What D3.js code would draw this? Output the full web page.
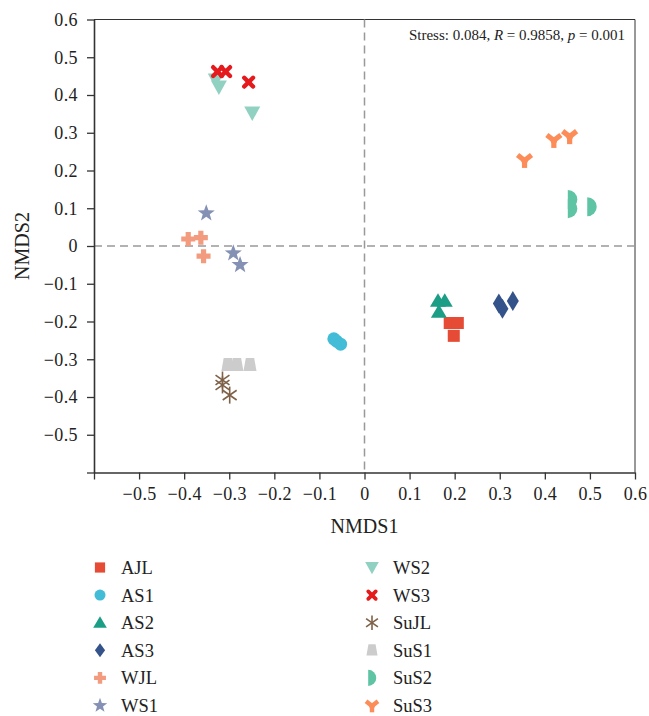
<html>
<head>
<meta charset="utf-8">
<style>
body { margin: 0; background: #fff; }
svg { font-family: "Liberation Serif", "DejaVu Serif", serif; }
.axis path, .axis line { stroke: #333; }
.axis text { font-size: 18px; letter-spacing: 0.4px; fill: #222; }
.title { font-size: 20px; fill: #222; }
.legend text { font-size: 18.5px; fill: #222; }
.zero { stroke: #999; stroke-width: 1.5; stroke-dasharray: 8,5; }
</style>
</head>
<body>
<svg width="649" height="716"></svg>
<script src="https://cdn.jsdelivr.net/npm/d3@7"></script>
<script>
// groups, colours, shapes
var groups = ["AJL","AS1","AS2","AS3","WJL","WS1","WS2","WS3","SuJL","SuS1","SuS2","SuS3"];
var colors = ["#E64B35","#42BCD7","#1B9E85","#34538A","#F39B7F","#8491B4","#91D1C2","#E41A1C","#7E6148","#CCCCCC","#5EC4A4","#FC8D59"];
var shapes = ["square","circle","triUp","diamond","plus","star","triDown","xcross","asterisk","trapezoid","half","yshape"];

// NMDS coordinates, three replicates per group
var nmds1 = [
  [0.189, 0.207, 0.198],
  [-0.068, -0.062, -0.053],
  [0.163, 0.178, 0.165],
  [0.298, 0.306, 0.329],
  [-0.391, -0.363, -0.357],
  [-0.351, -0.291, -0.276],
  [-0.330, -0.323, -0.249],
  [-0.326, -0.308, -0.257],
  [-0.315, -0.315, -0.299],
  [-0.303, -0.283, -0.254],
  [0.461, 0.461, 0.504],
  [0.355, 0.420, 0.455]
];
var nmds2 = [
  [-0.204, -0.204, -0.238],
  [-0.246, -0.252, -0.260],
  [-0.145, -0.145, -0.174],
  [-0.152, -0.166, -0.146],
  [0.0185, 0.022, -0.027],
  [0.087, -0.019, -0.050],
  [0.440, 0.421, 0.352],
  [0.462, 0.462, 0.434],
  [-0.355, -0.368, -0.395],
  [-0.315, -0.315, -0.315],
  [0.123, 0.099, 0.104],
  [0.228, 0.281, 0.291]
];
var ticks = [-0.6,-0.5,-0.4,-0.3,-0.2,-0.1,0,0.1,0.2,0.3,0.4,0.5,0.6];

var svg = d3.select("svg");
var x = d3.scaleLinear().domain([-0.6, 0.6]).range([94, 635]);
var y = d3.scaleLinear().domain([-0.6, 0.6]).range([472.5, 19.5]);

var fmt = function(d) {
  if (Math.abs(d) < 1e-9) return "0";
  var s = d3.format(".1f")(Math.abs(d));
  return (d < 0 ? "\u2212" : "") + s;
};

// frame top/right
svg.append("line").attr("x1", x(-0.6)).attr("x2", x(0.6)).attr("y1", y(0.6)).attr("y2", y(0.6))
  .attr("stroke", "#333").attr("stroke-width", 1);
svg.append("line").attr("x1", x(0.6)).attr("x2", x(0.6)).attr("y1", y(0.6)).attr("y2", y(-0.6))
  .attr("stroke", "#333").attr("stroke-width", 1);

// zero lines
svg.append("line").attr("class", "zero").attr("x1", x(-0.6)).attr("x2", x(0.6)).attr("y1", y(0)).attr("y2", y(0));
svg.append("line").attr("class", "zero").attr("x1", x(0)).attr("x2", x(0)).attr("y1", y(0.6)).attr("y2", y(-0.6));

var gx = svg.append("g").attr("class", "axis")
  .attr("transform", "translate(0," + y(-0.6) + ")")
  .call(d3.axisBottom(x).tickValues(ticks).tickSize(7).tickSizeOuter(0).tickPadding(6)
    .tickFormat(function(d) { return d < -0.55 ? "" : fmt(d); }));
var gy = svg.append("g").attr("class", "axis")
  .attr("transform", "translate(" + x(-0.6) + ",0)")
  .call(d3.axisLeft(y).tickValues(ticks).tickSize(7).tickSizeOuter(0).tickPadding(9)
    .tickFormat(function(d) { return d < -0.55 ? "" : fmt(d); }));
svg.selectAll(".axis").attr("font-family", null).attr("font-size", null);
svg.selectAll(".axis text").style("font-family", "'Liberation Serif', serif");
svg.selectAll(".axis path.domain").attr("stroke-width", 1.6);
svg.selectAll(".axis .tick line").attr("stroke-width", 1.3);
gx.selectAll("text").attr("dy", "0.8em");

svg.append("text").attr("class", "title").attr("text-anchor", "middle")
  .attr("x", x(0)).attr("y", 533).text("NMDS1");
svg.append("text").attr("class", "title").attr("text-anchor", "middle")
  .attr("transform", "translate(29," + y(0) + ") rotate(-90)").text("NMDS2");

// stats label
var st = svg.append("text").attr("text-anchor", "end").attr("x", 625).attr("y", 40)
  .style("font-size", "15px").attr("fill", "#222");
st.append("tspan").text("Stress: 0.084, ");
st.append("tspan").style("font-style", "italic").text("R");
st.append("tspan").text(" = 0.9858, ");
st.append("tspan").style("font-style", "italic").text("p");
st.append("tspan").text(" = 0.001");

// marker shapes
function drawShape(g, shape, color, k) {
  if (shape === "square") {
    g.append("rect").attr("x", -6*k).attr("y", -6*k).attr("width", 12*k).attr("height", 12*k).attr("fill", color);
  } else if (shape === "circle") {
    g.append("circle").attr("r", 6.5*k).attr("fill", color);
  } else if (shape === "triUp") {
    g.append("path").attr("d", "M0," + (-7.5*k) + "L" + (8*k) + "," + (6*k) + "L" + (-8*k) + "," + (6*k) + "Z").attr("fill", color);
  } else if (shape === "diamond") {
    var h = k < 1 ? 7 : 10;
    g.append("path").attr("d", "M0," + (-h) + "L" + (6*k) + ",0L0," + h + "L" + (-6*k) + ",0Z").attr("fill", color);
  } else if (shape === "plus") {
    var a = 7*k, b = 2.6*k;
    g.append("path").attr("d", "M" + -b + "," + -a + "H" + b + "V" + -b + "H" + a + "V" + b + "H" + b + "V" + a + "H" + -b + "V" + b + "H" + -a + "V" + -b + "H" + -b + "Z").attr("fill", color);
  } else if (shape === "star") {
    var pts = [];
    for (var i = 0; i < 10; i++) {
      var r = i % 2 === 0 ? 9*k : 3.7*k;
      var ang = -Math.PI/2 + i*Math.PI/5;
      pts.push([r*Math.cos(ang), r*Math.sin(ang)]);
    }
    g.append("path").attr("d", "M" + pts.join("L") + "Z").attr("fill", color);
  } else if (shape === "triDown") {
    g.append("path").attr("d", "M" + (-8*k) + "," + (-6.5*k) + "L" + (8*k) + "," + (-6.5*k) + "L0," + (8*k) + "Z").attr("fill", color);
  } else if (shape === "xcross") {
    var c = 4.4*k;
    [[-c,-c,c,c],[-c,c,c,-c]].forEach(function(l) {
      g.append("line").attr("x1", l[0]).attr("y1", l[1]).attr("x2", l[2]).attr("y2", l[3])
        .attr("stroke", color).attr("stroke-width", 4.4*k).attr("stroke-linecap", "round");
    });
  } else if (shape === "asterisk") {
    var R = 8.5*k;
    [90, 35, 145].forEach(function(deg) {
      var t = deg*Math.PI/180;
      g.append("line").attr("x1", -R*Math.cos(t)).attr("y1", -R*Math.sin(t))
        .attr("x2", R*Math.cos(t)).attr("y2", R*Math.sin(t))
        .attr("stroke", color).attr("stroke-width", 1.6);
    });
  } else if (shape === "trapezoid") {
    g.append("path").attr("d", "M" + (-4.2*k) + "," + (-7*k) + "L" + (4.2*k) + "," + (-7*k) + "L" + (6.5*k) + "," + (6*k) + "L" + (-6.5*k) + "," + (6*k) + "Z").attr("fill", color);
  } else if (shape === "half") {
    var rr = 9.5*k;
    g.append("path").attr("d", "M" + (-4.5*k) + "," + (-rr) + "A" + rr + "," + rr + " 0 0 1 " + (-4.5*k) + "," + rr + "Z").attr("fill", color);
  } else if (shape === "yshape") {
    var w = 5.2*k;
    [[0,8*k],[-7*k,-5*k],[7*k,-5*k]].forEach(function(e) {
      g.append("line").attr("x1", 0).attr("y1", 0.5*k).attr("x2", e[0]).attr("y2", e[1])
        .attr("stroke", color).attr("stroke-width", w);
    });
    g.append("circle").attr("cy", 0.5*k).attr("r", 3.2*k).attr("fill", color);
  }
}

// points
var points = [];
groups.forEach(function(gname, i) {
  nmds1[i].forEach(function(v, j) {
    points.push({ g: i, x: v, y: nmds2[i][j] });
  });
});
svg.append("g").selectAll("g").data(points).enter().append("g")
  .attr("transform", function(d) { return "translate(" + x(d.x) + "," + y(d.y) + ")"; })
  .each(function(d) { drawShape(d3.select(this), shapes[d.g], colors[d.g], 1); });

// legend
var leg = svg.append("g").attr("class", "legend");
var rowY = d3.scaleLinear().domain([0, 5]).range([567.5, 705.5]);
groups.forEach(function(gname, i) {
  var col = i < 6 ? 0 : 1, row = i % 6;
  var sx = col === 0 ? 100 : 372;
  var item = leg.append("g").attr("transform", "translate(" + sx + "," + rowY(row) + ")");
  drawShape(item, shapes[i], colors[i], 0.85);
  item.append("text").attr("x", 21).attr("y", 6.5).text(gname);
});
</script>
</body>
</html>
